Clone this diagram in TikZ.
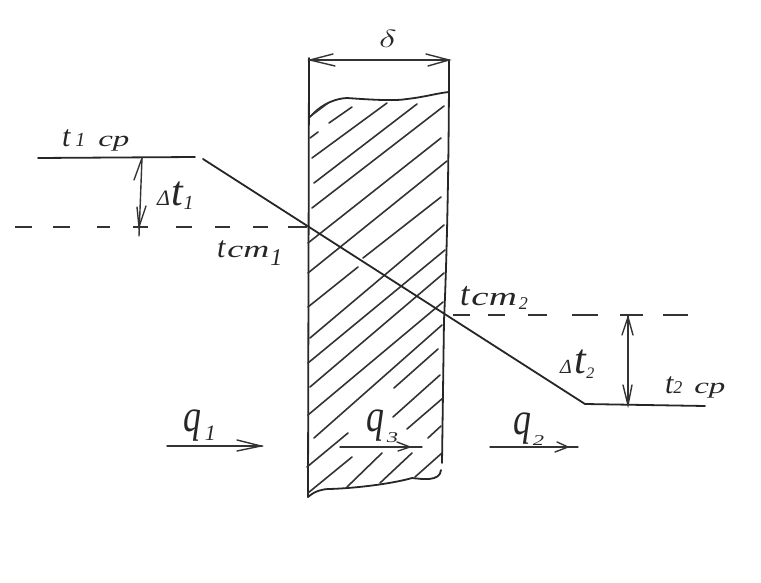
\documentclass[tikz,border=0pt]{standalone}
\usepackage{fontspec}
\setmainfont{Liberation Serif}
\newfontfamily\wideit[FakeStretch=1.5]{Liberation Serif}
\usetikzlibrary{calc}
\newcommand{\ts}[2]{{\fontsize{#1}{#1}\selectfont\itshape #2}}
\newcommand{\tw}[2]{{\wideit\fontsize{#1}{#1}\selectfont\itshape #2}}
\newcommand{\tq}[1]{\scalebox{0.78}[1]{\fontsize{46}{46}\selectfont\itshape #1}}
\tikzset{
  ink/.style={line width=1.8pt,black!85,line cap=round,line join=round},
  hatch/.style={line width=1.6pt,black!80,line cap=round},
  thin ink/.style={line width=1.4pt,black!80,line cap=round},
  dashline/.style={line width=1.5pt,black!80},
  lab/.style={anchor=base west,inner sep=0pt,outer sep=0pt,text=black!85},
}
\begin{document}
\begin{tikzpicture}[x=1pt,y=-1pt]
\useasboundingbox (0,0) rectangle (761,583);
% named end points
\coordinate (wallTL) at (309,58);
\coordinate (wallBL) at (308,497);
\coordinate (wallTR) at (449,60);
\coordinate (wallBR) at (442,463);
\coordinate (lineA) at (203,159);
\coordinate (lineB) at (585,404);
% wall outline
\draw[ink] (wallTL) -- (wallBL);
\draw[ink] (wallTR) .. controls (449,180) and (446,280) .. (444,320) -- (wallBR);
\draw[ink] (310,117) .. controls (318,108) and (330,99) .. (347,98)
  .. controls (375,100) and (395,101) .. (407,99) .. controls (425,97) and (438,93) .. (449,92);
\draw[ink] (wallBL) .. controls (315,491) and (322,489) .. (330,489)
  .. controls (360,488) and (395,483) .. (412,478) .. controls (422,479) and (440,482) .. (441,470);
% hatching
\foreach \xa/\ya/\xb/\yb in {
 312/115/328/103, 329/123/352/107, 310/138/318/132, 312/158/387/103,
 314/183/417/104, 312/208/444/106, 308/243/441/138, 308/273/447/161,
 308/307/358/267, 363/258/441/197, 310/338/444/225, 308/363/445/250,
 310/387/444/273, 308/415/443/302, 314/438/442/325, 394/388/438/349,
 393/417/440/375, 407/429/443/398, 428/438/441/426, 307/467/348/433,
 308/493/352/457, 347/487/382/453, 380/483/412/453, 415/477/442/453}
  \draw[hatch] (\xa,\ya) -- (\xb,\yb);
% temperature line
\draw[ink] (lineA) -- (lineB);
\coordinate (oneL) at (38,158);
\coordinate (oneR) at (195,157);
\coordinate (twoR) at (705,406);
\draw[ink] (oneL) -- (oneR);
\draw[ink] (lineB) -- (twoR);
% dashed levels
\foreach \xa/\xb in {15/32,53/70,97/110,133/148,176/192,215/230,253/268,288/307}
  \draw[dashline] (\xa,227) -- (\xb,227);
\foreach \xa/\xb in {453/470,488/505,528/547,572/598,620/643,663/688}
  \draw[dashline] (\xa,315) -- (\xb,315);
% delta t1
\draw[thin ink] (142,158) -- (139,236);
\draw[thin ink] (142,158) -- (134,180);
\draw[thin ink] (137,207) -- (139,227) -- (146,206);
% delta t2
\draw[thin ink] (628,315) -- (628,405);
\draw[thin ink] (622,335) -- (628,317) -- (633,335);
\draw[thin ink] (623,385) -- (628,405) -- (632,385);
% delta dimension
\coordinate (dimL) at (309,60);
\coordinate (dimR) at (449,60);
\draw[thin ink] (dimL) -- (dimR);
\draw[thin ink] (333,54) -- (310,60) -- (335,66);
\draw[thin ink] (426,54) -- (449,60) -- (428,66);
% flux arrows
\coordinate (qAa) at (167,446); \coordinate (qAb) at (262,446);
\coordinate (qBa) at (340,447); \coordinate (qBb) at (422,447);
\coordinate (qCa) at (490,447); \coordinate (qCb) at (578,447);
\draw[thin ink] (qAa) -- (qAb);
\draw[thin ink] (237,440) -- (261,446) -- (237,451);
\draw[thin ink] (qBa) -- (qBb);
\draw[thin ink] (397,442) -- (410,447) -- (398,451);
\draw[thin ink] (qCa) -- (qCb);
\draw[thin ink] (557,442) -- (568,447) -- (555,452);
% labels
\node[lab] (tonecp) at (62,147) {\ts{30}{t}\hspace{5pt}\ts{20}{1}\hspace{13pt}\tw{22}{ср}};
\node[lab] (dtone) at (157,205) {\ts{22}{Δ}\hspace{2pt}\ts{42}{t}\raisebox{-5pt}{\ts{20}{1}}};
\node[lab] (tstone) at (217,258) {\ts{30}{t}\hspace{2pt}\tw{24}{ст}\hspace{1pt}\raisebox{-8pt}{\ts{24}{1}}};
\node[lab] (tsttwo) at (460,305) {\ts{34}{t}\hspace{2pt}\tw{26}{ст}\hspace{2pt}\raisebox{-5pt}{\ts{18}{2}}};
\node[lab] (dttwo) at (560,373) {\ts{20}{Δ}\hspace{3pt}\ts{42}{t}\raisebox{-5pt}{\ts{16}{2}}};
\node[lab] (ttwocp) at (665,393) {\ts{30}{t}\ts{18}{2}\hspace{12pt}\tw{22}{ср}};
\node[lab] (qone) at (183,431) {\tq{q}\hspace{4pt}\raisebox{-9pt}{\ts{22}{1}}};
\node[lab] (qthree) at (366,431) {\tq{q}\hspace{3pt}\raisebox{-11pt}{\tw{15}{3}}};
\node[lab] (qtwo) at (513,434) {\tq{q}\hspace{2pt}\raisebox{-11pt}{\tw{15}{2}}};
\node[lab,xscale=1.5] (delta) at (379,48) {\fontsize{46}{46}\selectfont$\delta$};
\end{tikzpicture}
\end{document}
